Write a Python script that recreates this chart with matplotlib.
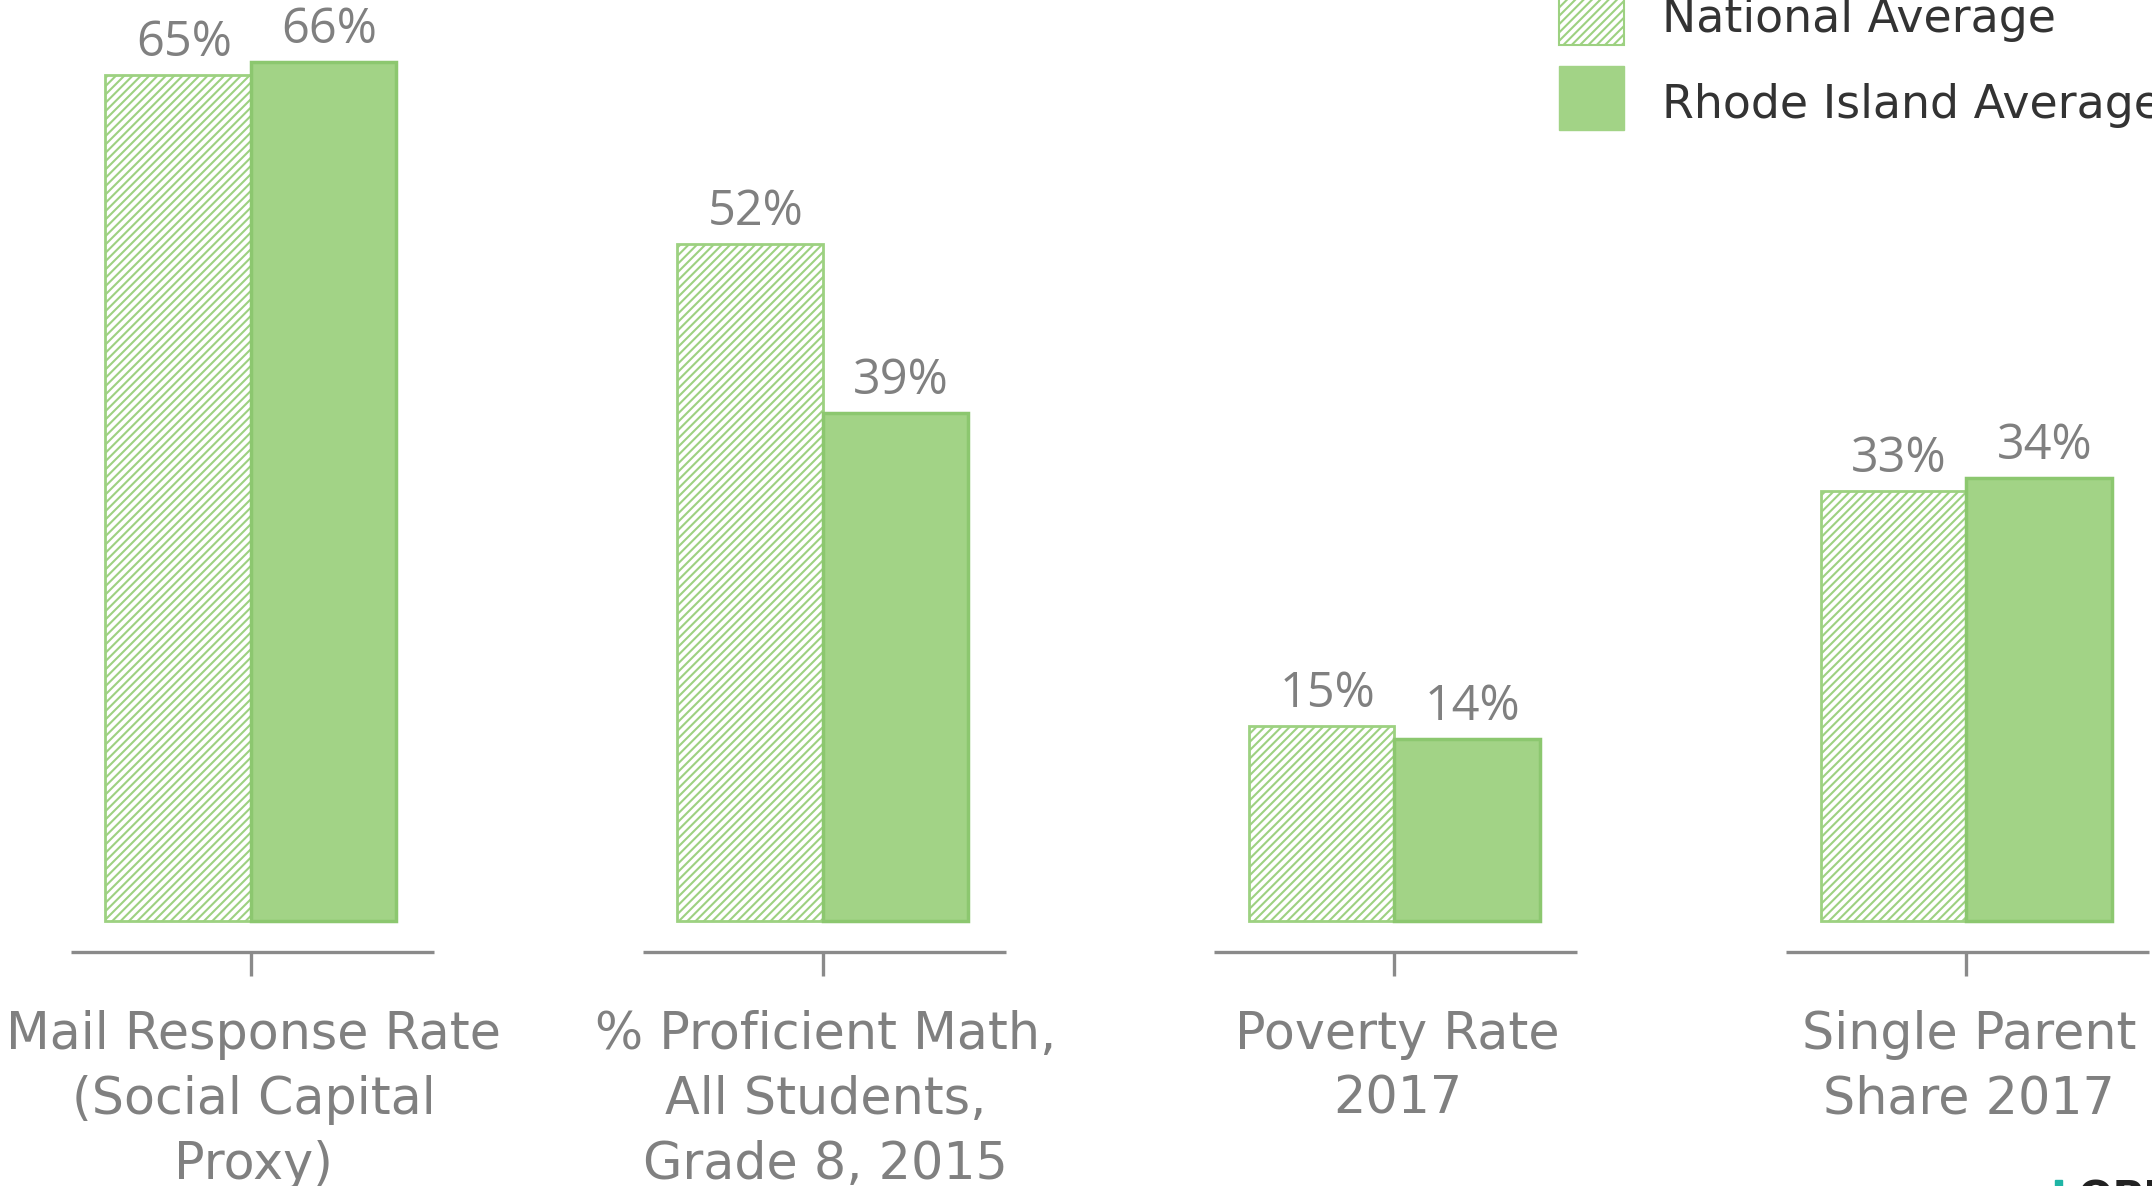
import numpy as np
import matplotlib
matplotlib.use('Agg')
import matplotlib.pyplot as plt
from matplotlib.patches import Rectangle

plt.rcParams['font.family'] = ['DejaVu Sans']
plt.rcParams['hatch.linewidth'] = 1.5

# Data
categories = ['Mail Response Rate\n(Social Capital\nProxy)',
              '% Proficient Math,\nAll Students,\nGrade 8, 2015',
              'Poverty Rate\n2017',
              'Single Parent\nShare 2017']
national = [65, 52, 15, 33]
rhode_island = [66, 39, 14, 34]
series_names = ['National Average', 'Rhode Island Average']

green_fill = '#a2d386'
green_edge = '#8cc76f'
hatch_green = '#9dd181'
label_gray = '#808080'
axis_gray = '#8a8a8a'

W, H = 2152, 1186
fig = plt.figure(figsize=(W / 100, H / 100), dpi=100)
ax = fig.add_axes([0, 0, 1, 1])
ax.set_xlim(-0.439, 3.325)
ax.set_ylim(-20.35, 70.74)
ax.axis('off')

x = np.arange(len(categories))
w = 0.2545

nat_bars = ax.bar(x - w / 2, national, w, facecolor='white', edgecolor=hatch_green,
                  hatch='////', linewidth=2)
ri_bars = ax.bar(x + w / 2, rhode_island, w, facecolor=green_fill, edgecolor=green_edge,
                 linewidth=2.5)

# value labels
for bars, vals in [(nat_bars, national), (ri_bars, rhode_island)]:
    for b, v in zip(bars, vals):
        ax.annotate(f'{v}%', (b.get_x() + b.get_width() / 2 + 0.01, b.get_height()),
                    xytext=(0, 5), textcoords='offset points', ha='center', va='bottom',
                    fontsize=35, color=label_gray, family='Open Sans')

# a little axis line with a tick under each group
for xi, lab in zip(x, categories):
    ax.plot([xi - 0.315, xi + 0.32], [-2.4, -2.4], color=axis_gray, lw=2.4,
            solid_capstyle='butt')
    ax.plot([xi, xi], [-2.4, -4.2], color=axis_gray, lw=2.4, solid_capstyle='butt')
    ax.text(xi + 0.005, -6.8, lab, ha='center', va='top', fontsize=36.5, color=label_gray,
            linespacing=1.39)

# legend, drawn by hand so it sits where the original does
fig.patches.append(Rectangle((1559 / W, 1 - 45 / H), 65 / W, 64 / H, facecolor='white',
                             edgecolor=hatch_green, hatch='////', linewidth=1.5,
                             transform=fig.transFigure))
fig.patches.append(Rectangle((1559 / W, 1 - 130 / H), 65 / W, 64 / H, facecolor=green_fill,
                             edgecolor=green_fill, linewidth=1, transform=fig.transFigure))
fig.text(1662 / W, 1 - 19 / H, series_names[0], fontsize=33, color='#333333',
         va='center', ha='left')
fig.text(1662 / W, 1 - 106 / H, series_names[1], fontsize=33, color='#333333',
         va='center', ha='left')

# corner of a logo peeking in at the bottom right
fig.patches.append(Rectangle((2055 / W, 0), 7 / W, 6 / H, color='#1fb5a5',
                             transform=fig.transFigure))
fig.text(2078 / W, 8 / H, 'OPP', fontsize=30, fontweight='bold', color='#222222',
         va='top', ha='left')

fig.savefig('out.png', dpi=100)
